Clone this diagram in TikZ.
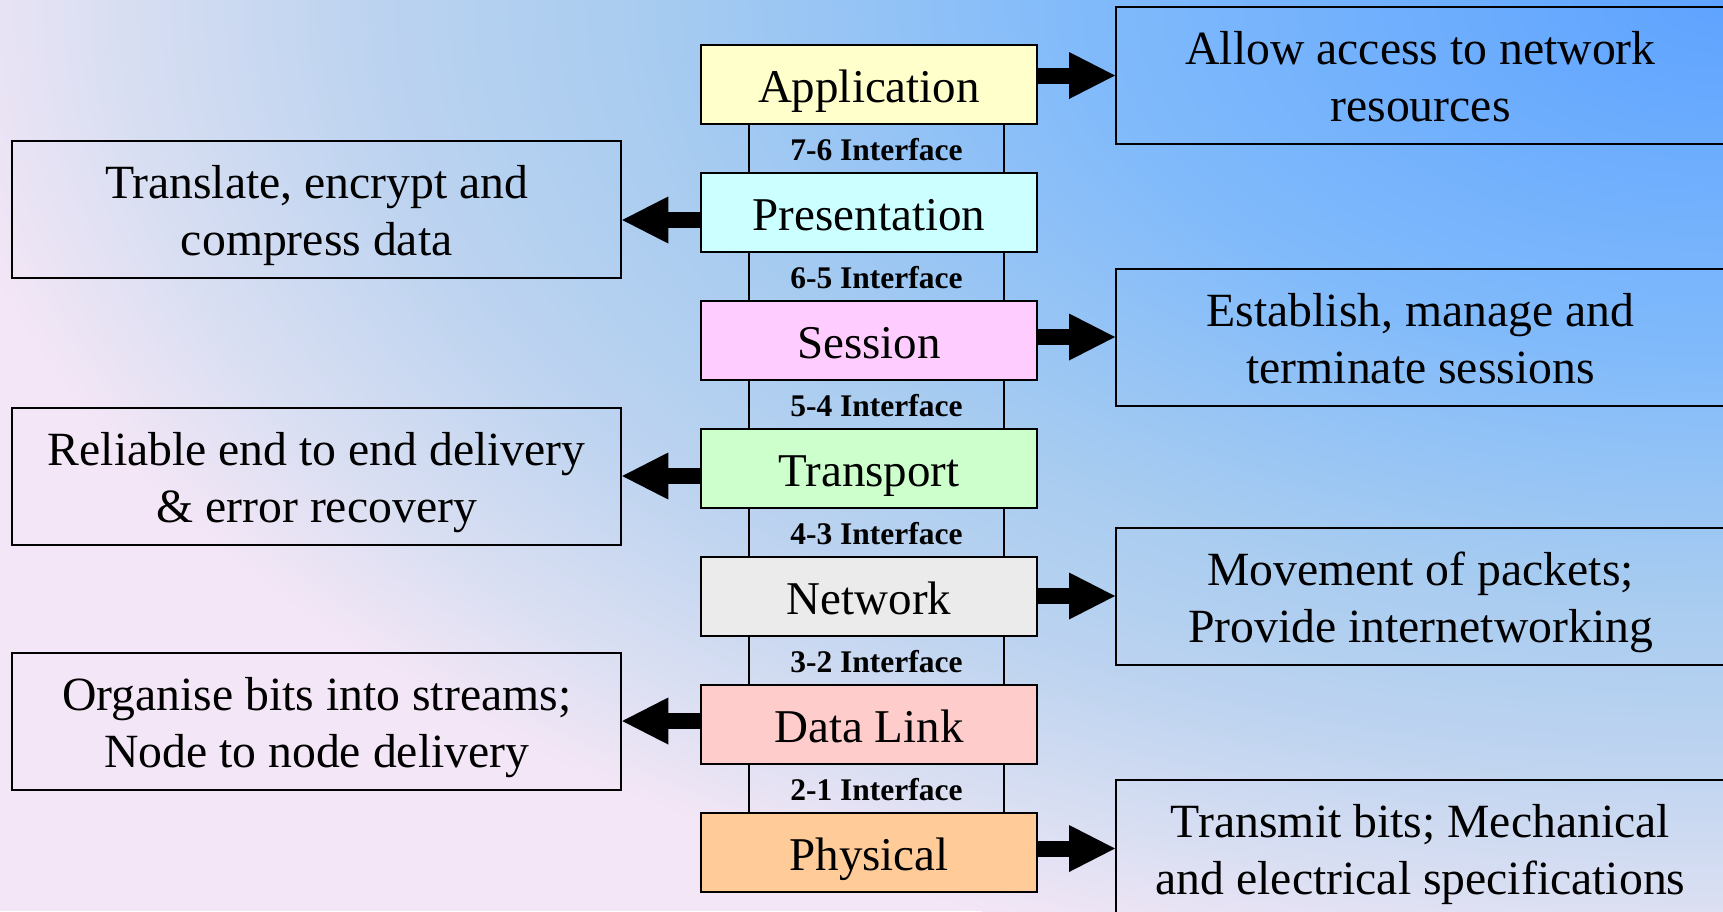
\documentclass[tikz,border=0pt]{standalone}
\usepackage{fontspec}
\setmainfont{Liberation Serif}
\usetikzlibrary{arrows.meta,calc}
\definecolor{bga}{HTML}{5EA3FF}
\definecolor{bgb}{HTML}{80BAFB}
\definecolor{bgc}{HTML}{A8CCF0}
\definecolor{bgd}{HTML}{BCD3F0}
\definecolor{bge}{HTML}{DADFF2}
\definecolor{bgf}{HTML}{F3E6F6}
\definecolor{appc}{HTML}{FFFFCC}
\definecolor{prec}{HTML}{CCFFFF}
\definecolor{sesc}{HTML}{FFCCFF}
\definecolor{trac}{HTML}{CCFFCC}
\definecolor{netc}{HTML}{EBEBEB}
\definecolor{dlkc}{HTML}{FFCCCC}
\definecolor{phyc}{HTML}{FFCC99}
\newcommand\dtopst{\rule{0pt}{47.6pt}}
\newcommand\dbotst{\rule[-12pt]{0pt}{1pt}}
\pgfdeclareradialshading{bgshade}{\pgfpoint{0bp}{0bp}}{color(0bp)=(bga);color(8.75bp)=(bgb);color(15bp)=(bgc);color(18.75bp)=(bgd);color(22.5bp)=(bge);color(25bp)=(bgf);color(50bp)=(bgf)}
\begin{document}
\begin{tikzpicture}[x=1pt,y=-1pt,
  layer/.style={draw, line width=2pt, minimum width=336pt, minimum height=79pt, inner sep=0pt, text height=35pt, text depth=0pt, font=\fontsize{47}{56}\selectfont},
  iface/.style={inner sep=0pt, text height=23.4pt, text depth=0pt, font=\fontsize{31.5}{36}\selectfont\bfseries},
  ifline/.style={line width=2pt},
  desc/.style={draw, line width=2pt, minimum width=609pt, minimum height=137pt, align=center, inner sep=0pt, font=\fontsize{47.7}{56.7}\selectfont},
  bigarrow/.style={line width=16pt, -{Triangle[length=46pt,width=47pt,line width=0pt]}}
]
\useasboundingbox (0,0) rectangle (1723,911);
\begin{scope}
\clip (0,0) rectangle (1723,911);
\fill[bgf] (0,0) rectangle (1723,911);
\shade[shading=bgshade] (1723,0) ellipse [x radius=1800pt, y radius=1000pt];
\end{scope}

% layers
\node[layer, fill=appc] (L7) at (869,84.5) {Application};
\node[layer, fill=prec] (L6) at (869,212.5) {Presentation};
\node[layer, fill=sesc] (L5) at (869,340.5) {Session};
\node[layer, fill=trac] (L4) at (869,468.5) {Transport};
\node[layer, fill=netc] (L3) at (869,596.5) {Network};
\node[layer, fill=dlkc] (L2) at (869,724.5) {Data Link};
\node[layer, fill=phyc] (L1) at (869,852.5) {Physical};

% interfaces
\node[iface] (I76) at (876.5,148.5) {7-6 Interface};
\node[iface] (I65) at (876.5,276.5) {6-5 Interface};
\node[iface] (I54) at (876.5,404.5) {5-4 Interface};
\node[iface] (I43) at (876.5,532.5) {4-3 Interface};
\node[iface] (I32) at (876.5,660.5) {3-2 Interface};
\node[iface] (I21) at (876.5,788.5) {2-1 Interface};
\coordinate (il) at (749,0);
\coordinate (ir) at (1004,0);
\foreach \u/\l in {L7/L6,L6/L5,L5/L4,L4/L3,L3/L2,L2/L1}{
  \draw[ifline] (\u.south -| il) -- (\l.north -| il);
  \draw[ifline] (\u.south -| ir) -- (\l.north -| ir);
}

% descriptions
\node[desc] (D7) at (1420.5,75.5) {\dtopst Allow access to network\\\dbotst resources};
\node[desc] (D6) at (316.75,209) {\dtopst Translate, encrypt and\\\dbotst compress data};
\node[desc] (D5) at (1420.5,337) {\dtopst Establish, manage and\\\dbotst terminate sessions};
\node[desc] (D4) at (316.75,476) {\dtopst Reliable end to end delivery\\\dbotst \& error recovery};
\node[desc] (D3) at (1420.5,596) {\dtopst Movement of packets;\\\dbotst Provide internetworking};
\node[desc] (D2) at (316.75,721) {\dtopst Organise bits into streams;\\\dbotst Node to node delivery};
\node[desc] (D1) at (1420.5,848.5) {\dtopst Transmit bits; Mechanical\\\dbotst and electrical specifications};

% arrows
\coordinate (a6) at ($(D6.east)+(0,11)$);
\draw[bigarrow] (L7.east |- D7.west) -- (D7.west);
\draw[bigarrow] (L6.west |- a6) -- (a6);
\draw[bigarrow] (L5.east |- D5.west) -- (D5.west);
\draw[bigarrow] (L4.west |- D4.east) -- (D4.east);
\draw[bigarrow] (L3.east |- D3.west) -- (D3.west);
\draw[bigarrow] (L2.west |- D2.east) -- (D2.east);
\draw[bigarrow] (L1.east |- D1.west) -- (D1.west);
\end{tikzpicture}
\end{document}
